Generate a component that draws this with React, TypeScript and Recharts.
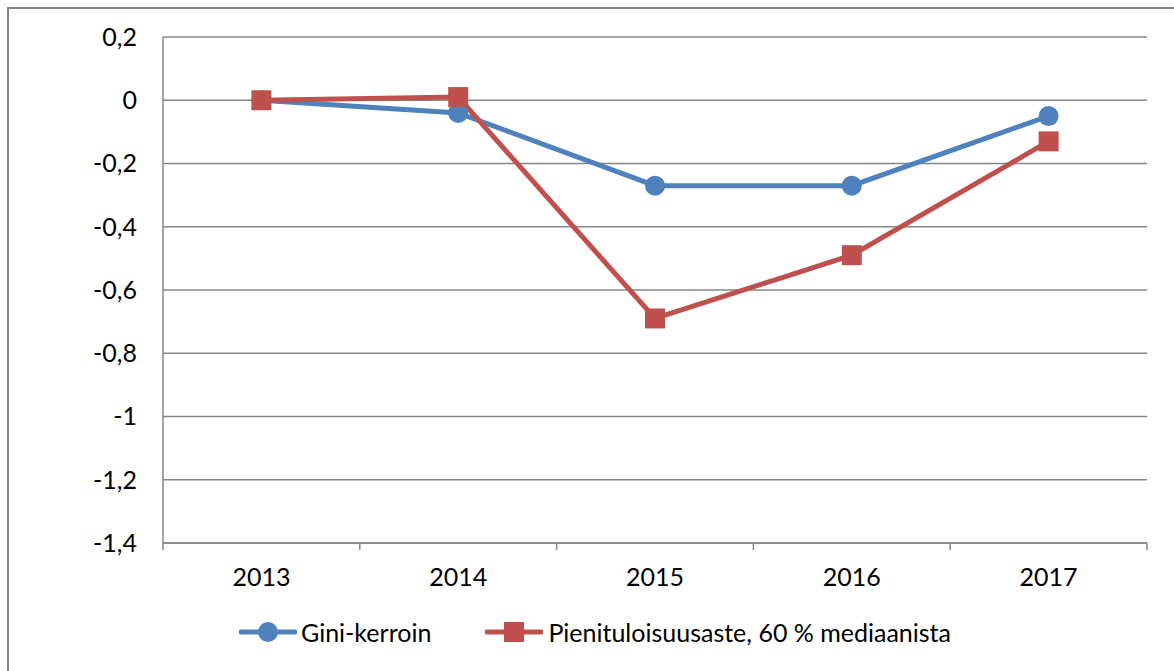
import { LineChart, Line, XAxis, YAxis, CartesianGrid, Legend } from 'recharts';

const years = ['2013', '2014', '2015', '2016', '2017'];
const giniValues = [0, -0.04, -0.27, -0.27, -0.05];
const lowIncomeValues = [0, 0.01, -0.69, -0.49, -0.13];
const yTicks = [-1.4, -1.2, -1, -0.8, -0.6, -0.4, -0.2, 0, 0.2];

const GINI_NAME = 'Gini-kerroin';
const LOW_NAME = 'Pienituloisuusaste, 60 % mediaanista';

const BLUE = '#4F81BD';
const RED = '#C0504D';
const AXIS = '#868686';
const FONT = 'Lato, "Open Sans", sans-serif';
const FONT_SIZE = 25;

const data = years.map((year, i) => ({
  year,
  gini: giniValues[i],
  low: lowIncomeValues[i],
}));

const CHART_W = 1165;
const CHART_H = 662;
const MARGIN = { top: 28, right: 27, left: 0, bottom: 24 };
const Y_AXIS_W = 154;
const PLOT_W = CHART_W - MARGIN.left - MARGIN.right - Y_AXIS_W;
const HALF_BAND = PLOT_W / years.length / 2;
const LABEL_GAP = 25;

const fmt = (v: number) => String(v).replace('.', ',');

function XTick(props: any) {
  const { x, y, payload, index, visibleTicksCount } = props;
  const axisY = y - LABEL_GAP;
  const half = payload?.offset || HALF_BAND;
  const last = index === visibleTicksCount - 1;
  return (
    <g>
      <line x1={x - half} x2={x - half} y1={axisY} y2={axisY + 7} stroke={AXIS} strokeWidth={1.5} />
      {last && (
        <line x1={x + half} x2={x + half} y1={axisY} y2={axisY + 7} stroke={AXIS} strokeWidth={1.5} />
      )}
      <text x={x} y={y} dy="0.71em" textAnchor="middle" fill="#000" fontSize={FONT_SIZE} fontFamily={FONT}>
        {payload.value}
      </text>
    </g>
  );
}

function SquareDot(props: any) {
  const { cx, cy, index } = props;
  if (cx == null || cy == null) return null;
  return <rect key={`sq-${index}`} x={cx - 10} y={cy - 10} width={20} height={20} fill={RED} />;
}

function LegendIcon({ color, square }: { color: string; square?: boolean }) {
  return (
    <svg width={58} height={22} style={{ display: 'block' }}>
      <line x1={2} x2={56} y1={11} y2={11} stroke={color} strokeWidth={5} strokeLinecap="round" />
      {square ? (
        <rect x={19} y={1} width={20} height={20} fill={color} />
      ) : (
        <circle cx={29} cy={11} r={10} fill={color} />
      )}
    </svg>
  );
}

function ChartLegend() {
  return (
    <div
      style={{
        display: 'flex',
        justifyContent: 'center',
        alignItems: 'center',
        paddingLeft: 34,
        fontFamily: FONT,
        fontSize: FONT_SIZE,
        color: '#000',
        height: 30,
      }}
    >
      <LegendIcon color={BLUE} />
      <span style={{ marginLeft: 4, marginRight: 54 }}>{GINI_NAME}</span>
      <LegendIcon color={RED} square />
      <span style={{ marginLeft: 5 }}>{LOW_NAME}</span>
    </div>
  );
}

export default function App() {
  return (
    <div
      style={{
        position: 'fixed',
        left: 7,
        top: 7,
        width: 1167,
        height: 664,
        borderLeft: `2px solid ${AXIS}`,
        borderTop: `2px solid ${AXIS}`,
        background: '#fff',
      }}
    >
      <LineChart width={CHART_W} height={CHART_H} data={data} margin={MARGIN}>
        <CartesianGrid vertical={false} stroke={AXIS} strokeWidth={1.5} />
        <XAxis
          dataKey="year"
          scale="band"
          axisLine={{ stroke: AXIS, strokeWidth: 1.5 }}
          tickLine={false}
          tickSize={0}
          tickMargin={LABEL_GAP}
          height={74}
          tick={<XTick />}
          interval={0}
        />
        <YAxis
          width={Y_AXIS_W}
          domain={[-1.4, 0.2]}
          ticks={yTicks}
          tickFormatter={fmt}
          axisLine={{ stroke: AXIS, strokeWidth: 1.5 }}
          tickLine={false}
          tickSize={0}
          tickMargin={26}
          tick={{ fill: '#000', fontSize: FONT_SIZE, fontFamily: FONT }}
          allowDataOverflow
          interval={0}
        />
        <Legend verticalAlign="bottom" content={<ChartLegend />} />
        <Line
          dataKey="gini"
          name={GINI_NAME}
          stroke={BLUE}
          strokeWidth={5}
          dot={{ r: 10, fill: BLUE, stroke: 'none' }}
          activeDot={false}
          isAnimationActive={false}
        />
        <Line
          dataKey="low"
          name={LOW_NAME}
          stroke={RED}
          strokeWidth={5}
          dot={<SquareDot />}
          activeDot={false}
          isAnimationActive={false}
        />
      </LineChart>
    </div>
  );
}
